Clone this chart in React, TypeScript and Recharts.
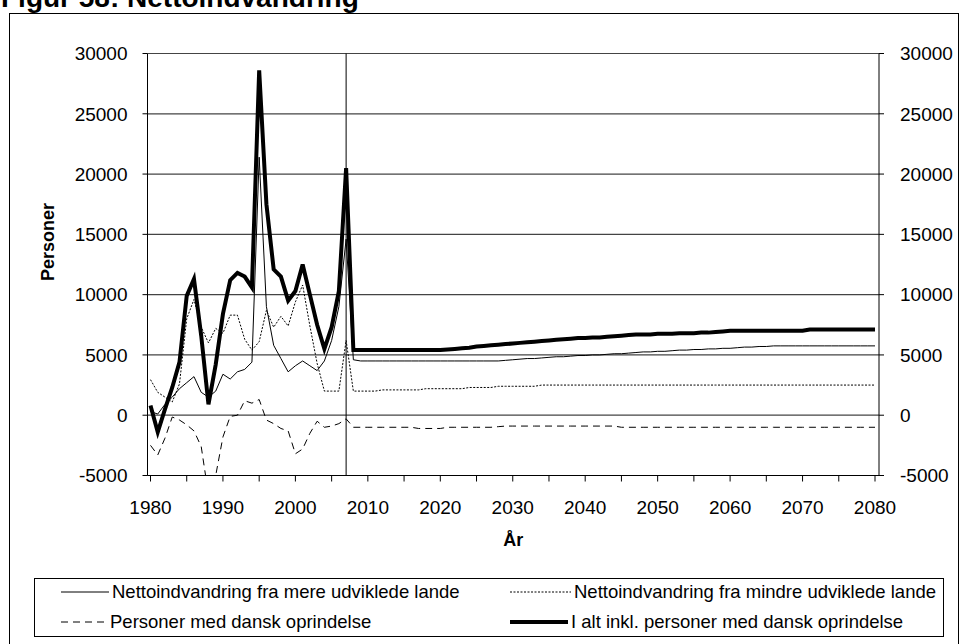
import React from 'react'
import { LineChart, Line, XAxis, YAxis, CartesianGrid, ReferenceLine } from 'recharts'

const years = [
  1980, 1981, 1982, 1983, 1984, 1985, 1986, 1987, 1988, 1989,
  1990, 1991, 1992, 1993, 1994, 1995, 1996, 1997, 1998, 1999,
  2000, 2001, 2002, 2003, 2004, 2005, 2006, 2007, 2008, 2009,
  2010, 2011, 2012, 2013, 2014, 2015, 2016, 2017, 2018, 2019,
  2020, 2021, 2022, 2023, 2024, 2025, 2026, 2027, 2028, 2029,
  2030, 2031, 2032, 2033, 2034, 2035, 2036, 2037, 2038, 2039,
  2040, 2041, 2042, 2043, 2044, 2045, 2046, 2047, 2048, 2049,
  2050, 2051, 2052, 2053, 2054, 2055, 2056, 2057, 2058, 2059,
  2060, 2061, 2062, 2063, 2064, 2065, 2066, 2067, 2068, 2069,
  2070, 2071, 2072, 2073, 2074, 2075, 2076, 2077, 2078, 2079,
  2080,
]

// Nettoindvandring fra mere udviklede lande
const mere = [
  300, 100, 900, 1500, 2200, 2700, 3200, 1900, 1500, 2000,
  3400, 3000, 3600, 3800, 4400, 21400, 9000, 5800, 4700, 3600,
  4100, 4500, 4100, 3700, 4500, 6200, 9000, 14600, 4600, 4500,
  4500, 4500, 4500, 4500, 4500, 4500, 4500, 4500, 4500, 4500,
  4500, 4500, 4500, 4500, 4500, 4500, 4500, 4500, 4500, 4550,
  4600, 4650, 4700, 4700, 4750, 4800, 4850, 4850, 4900, 4950,
  4950, 5000, 5000, 5050, 5100, 5100, 5150, 5200, 5250, 5250,
  5300, 5300, 5350, 5400, 5400, 5450, 5450, 5500, 5500, 5550,
  5550, 5600, 5650, 5650, 5700, 5700, 5750, 5750, 5750, 5750,
  5750, 5750, 5750, 5750, 5750, 5750, 5750, 5750, 5750, 5750,
  5750,
]

// Nettoindvandring fra mindre udviklede lande
const mindre = [
  2950, 1900, 1500, 1100, 2600, 8000, 9600, 7300, 6000, 7200,
  6800, 8300, 8300, 6300, 5400, 6100, 8700, 7300, 8200, 7400,
  9400, 10800, 7400, 4300, 2000, 2000, 2000, 6200, 2000, 2000,
  2000, 2000, 2100, 2100, 2100, 2100, 2100, 2100, 2200, 2200,
  2200, 2200, 2200, 2200, 2300, 2300, 2300, 2300, 2400, 2400,
  2400, 2400, 2400, 2400, 2500, 2500, 2500, 2500, 2500, 2500,
  2500, 2500, 2500, 2500, 2500, 2500, 2500, 2500, 2500, 2500,
  2500, 2500, 2500, 2500, 2500, 2500, 2500, 2500, 2500, 2500,
  2500, 2500, 2500, 2500, 2500, 2500, 2500, 2500, 2500, 2500,
  2500, 2500, 2500, 2500, 2500, 2500, 2500, 2500, 2500, 2500,
  2500,
]

// Personer med dansk oprindelse
const dansk = [
  -2500, -3300, -1900, -150, -400, -800, -1300, -2600, -6600, -5000,
  -1800, -100, 0, 1200, 1000, 1300, -400, -700, -1100, -1300,
  -3200, -2800, -1500, -500, -1000, -900, -700, -300, -1000, -1000,
  -1000, -1000, -1000, -1000, -1000, -1000, -1000, -1100, -1100, -1100,
  -1100, -1000, -1000, -1000, -1000, -1000, -1000, -1000, -950, -900,
  -900, -900, -900, -900, -900, -900, -900, -900, -900, -900,
  -900, -900, -900, -900, -900, -1000, -1000, -1000, -1000, -1000,
  -1000, -1000, -1000, -1000, -1000, -1000, -1000, -1000, -1000, -1000,
  -1000, -1000, -1000, -1000, -1000, -1000, -1000, -1000, -1000, -1000,
  -1000, -1000, -1000, -1000, -1000, -1000, -1000, -1000, -1000, -1000,
  -1000,
]

// I alt inkl. personer med dansk oprindelse
const total = [
  800, -1400, 500, 2300, 4400, 9900, 11300, 6600, 900, 4200,
  8400, 11200, 11800, 11500, 10600, 28600, 17500, 12100, 11500, 9500,
  10300, 12500, 10000, 7500, 5500, 7300, 10300, 20500, 5400, 5400,
  5400, 5400, 5400, 5400, 5400, 5400, 5400, 5400, 5400, 5400,
  5400, 5450, 5500, 5550, 5600, 5700, 5750, 5800, 5850, 5900,
  5950, 6000, 6050, 6100, 6150, 6200, 6250, 6300, 6350, 6400,
  6400, 6450, 6450, 6500, 6550, 6600, 6650, 6700, 6700, 6700,
  6750, 6750, 6750, 6800, 6800, 6800, 6850, 6850, 6900, 6950,
  7000, 7000, 7000, 7000, 7000, 7000, 7000, 7000, 7000, 7000,
  7000, 7100, 7100, 7100, 7100, 7100, 7100, 7100, 7100, 7100,
  7100,
]

const xTicks = [
  1980, 1985, 1990, 1995, 2000, 2005, 2010, 2015, 2020, 2025, 2030,
  2035, 2040, 2045, 2050, 2055, 2060, 2065, 2070, 2075, 2080,
]
const yTicks = [-5000, 0, 5000, 10000, 15000, 20000, 25000, 30000]

const data = years.map((year, i) => ({
  year,
  mere: mere[i],
  mindre: mindre[i],
  dansk: dansk[i],
  total: total[i],
}))

const FONT = 'Arial, "Liberation Sans", sans-serif'

const XTick = (props: any) => {
  const { x, y, payload } = props
  if (payload.value % 10 !== 0) return <g />
  return (
    <text x={x} y={y + 30} textAnchor="middle" fontSize={19} fontFamily={FONT} fill="#000">
      {payload.value}
    </text>
  )
}

const legendItems = [
  { label: 'Nettoindvandring fra mere udviklede lande', x: 61, y: 592, w: 48, width: 1, dash: undefined },
  { label: 'Nettoindvandring fra mindre udviklede lande', x: 510, y: 592, w: 61, width: 1, dash: '2 1.5' },
  { label: 'Personer med dansk oprindelse', x: 61, y: 622, w: 46, width: 1, dash: '7 5' },
  { label: 'I alt inkl. personer med dansk oprindelse', x: 510, y: 622, w: 58, width: 4, dash: undefined },
]

export default function App() {
  return (
    <div style={{ position: 'absolute', left: 0, top: 0, width: 964, height: 644, background: '#fff', overflow: 'hidden', fontFamily: FONT }}>
      <div style={{ position: 'absolute', left: 1, top: -16, fontSize: 28, fontWeight: 'bold', lineHeight: '28px', whiteSpace: 'nowrap' }}>
        Figur 58: Nettoindvandring
      </div>
      <div style={{ position: 'absolute', left: 9, top: 13, width: 950, height: 660, border: '1px solid #000', boxSizing: 'border-box' }} />
      <div style={{ position: 'absolute', left: 0, top: 0 }}>
        <LineChart
          width={964}
          height={560}
          data={data}
          margin={{ top: 53.5, right: 5, left: 67.5, bottom: 54.5 }}
        >
          <CartesianGrid vertical={false} stroke="#444" strokeWidth={1.2} yAxisId="left" />
          <XAxis
            dataKey="year"
            type="number"
            domain={[1980, 2080]}
            ticks={xTicks}
            interval={0}
            tick={<XTick />}
            tickSize={6}
            height={30}
            padding={{ left: 3, right: 4 }}
            axisLine={{ stroke: '#000' }}
            tickLine={{ stroke: '#000' }}
            label={{ value: 'År', position: 'insideBottom', offset: -40, style: { fontWeight: 'bold', fontSize: 18, fill: '#000', fontFamily: FONT } }}
          />
          <YAxis
            yAxisId="left"
            domain={[-5000, 30000]}
            ticks={yTicks}
            allowDataOverflow
            width={80}
            tickSize={5}
            tickMargin={15}
            axisLine={{ stroke: '#000' }}
            tickLine={{ stroke: '#000' }}
            tick={{ fontSize: 19, fill: '#000', fontFamily: FONT }}
          />
          <YAxis
            yAxisId="right"
            orientation="right"
            domain={[-5000, 30000]}
            ticks={yTicks}
            allowDataOverflow
            width={80}
            tickSize={5}
            tickMargin={16}
            axisLine={{ stroke: '#000' }}
            tickLine={{ stroke: '#000' }}
            tick={{ fontSize: 19, fill: '#000', fontFamily: FONT, textAnchor: 'start' }}
          />
          <ReferenceLine x={2007} yAxisId="left" stroke="#000" strokeWidth={1} />
          <Line yAxisId="left" type="linear" dataKey="mere" stroke="#000" strokeWidth={1} dot={false} isAnimationActive={false} />
          <Line yAxisId="left" type="linear" dataKey="mindre" stroke="#000" strokeWidth={1} strokeDasharray="2 1.5" dot={false} isAnimationActive={false} />
          <Line yAxisId="left" type="linear" dataKey="dansk" stroke="#000" strokeWidth={1} strokeDasharray="7 5" dot={false} isAnimationActive={false} />
          <Line yAxisId="left" type="linear" dataKey="total" stroke="#000" strokeWidth={4} dot={false} isAnimationActive={false} />
        </LineChart>
      </div>
      <svg width={964} height={644} style={{ position: 'absolute', left: 0, top: 0 }}>
        <text
          x={0}
          y={0}
          transform="translate(54, 242) rotate(-90)"
          textAnchor="middle"
          fontSize={18}
          fontWeight="bold"
          fontFamily={FONT}
          fill="#000"
        >
          Personer
        </text>
        <rect x={34.5} y={578.5} width={909} height={58} fill="none" stroke="#000" strokeWidth={1} />
        {legendItems.map((it) => (
          <g key={it.label}>
            <line x1={it.x} x2={it.x + it.w} y1={it.y} y2={it.y} stroke="#000" strokeWidth={it.width} strokeDasharray={it.dash} />
            <text x={it.x + it.w + 3} y={it.y + 6} fontSize={18.5} fontFamily={FONT} fill="#000">
              {it.label}
            </text>
          </g>
        ))}
      </svg>
    </div>
  )
}
